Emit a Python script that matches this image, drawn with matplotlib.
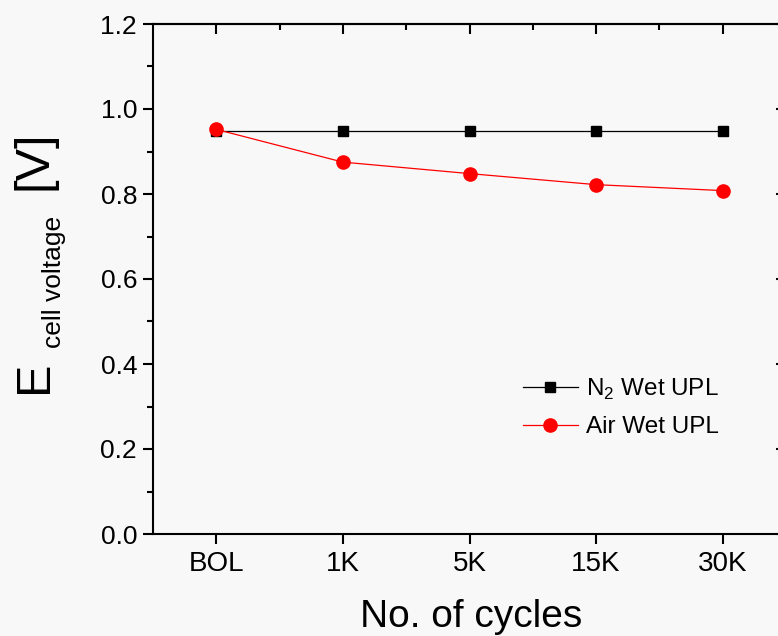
import matplotlib
matplotlib.use("Agg")
import matplotlib.pyplot as plt
from matplotlib.ticker import MultipleLocator, FixedLocator, NullLocator

plt.rcParams['font.family'] = ['Liberation Sans', 'DejaVu Sans']
plt.rcParams['mathtext.fontset'] = 'custom'
plt.rcParams['mathtext.rm'] = 'Liberation Sans'

# Data
categories = ['BOL', '1K', '5K', '15K', '30K']
n2_wet_upl = [0.948, 0.948, 0.948, 0.948, 0.948]
air_wet_upl = [0.952, 0.875, 0.848, 0.822, 0.808]

W, H = 778, 636
fig = plt.figure(figsize=(W / 100, H / 100), dpi=100, facecolor='#f8f8f8')
ax = fig.add_axes([153 / W, (H - 534) / H, 633 / W, 510 / H])
ax.set_facecolor('#f8f8f8')

x = list(range(len(categories)))
ax.plot(x, n2_wet_upl, color='black', lw=0.9, marker='s', ms=7.5,
        mfc='black', mec='black', label=r'N$_\mathregular{2}$ Wet UPL')
ax.plot(x, air_wet_upl, color='#ff0000', lw=0.9, marker='o', ms=9.5,
        mfc='#ff0000', mec='#ff0000', label='Air Wet UPL')

ax.set_xlim(-0.5, 4.5)
ax.set_ylim(0.0, 1.2)
ax.set_xticks(x)
ax.set_xticklabels(categories)
ax.yaxis.set_major_locator(MultipleLocator(0.2))
ax.yaxis.set_minor_locator(MultipleLocator(0.1))
ax.xaxis.set_minor_locator(NullLocator())
ax.yaxis.set_major_formatter(matplotlib.ticker.FormatStrFormatter('%.1f'))

for s in ax.spines.values():
    s.set_linewidth(1.5)

ax.tick_params(axis='x', which='major', direction='out', length=7.5, width=1.5,
               labelsize=20, pad=5, top=False)
ax.tick_params(axis='y', which='major', direction='out', length=7.5, width=1.5,
               labelsize=19, pad=4, right=False)
ax.tick_params(axis='y', which='minor', direction='out', length=4, width=1.5,
               right=False)

# Inward ticks on the top and right edges
top = ax.secondary_xaxis('top')
top.xaxis.set_major_locator(FixedLocator(x))
top.xaxis.set_minor_locator(FixedLocator([i + 0.5 for i in x[:-1]]))
top.tick_params(which='major', direction='in', length=7.5, width=1.5, labeltop=False)
top.tick_params(which='minor', direction='in', length=4, width=1.5)
top.spines['top'].set_linewidth(1.5)

right = ax.secondary_yaxis('right')
right.yaxis.set_major_locator(MultipleLocator(0.2))
right.yaxis.set_minor_locator(MultipleLocator(0.1))
right.tick_params(which='major', direction='in', length=7.5, width=1.5, labelright=False)
right.tick_params(which='minor', direction='in', length=4, width=1.5)

# Axis titles
fig.text(471 / W, 1 - 627 / H, 'No. of cycles', ha='center', va='baseline', fontsize=28)
fig.text(47 / W, 1 - 393 / H, 'E', rotation=90, rotation_mode='anchor',
         ha='left', va='baseline', fontsize=35)
fig.text(61 / W, 1 - 348 / H, 'cell voltage', rotation=90, rotation_mode='anchor',
         ha='left', va='baseline', fontsize=19)
fig.text(47 / W, 1 - 190 / H, '[V]', rotation=90, rotation_mode='anchor',
         ha='left', va='baseline', fontsize=35)

leg = ax.legend(loc='upper left', bbox_to_anchor=((523 - 153) / 633, (534 - 377) / 510),
                frameon=False, fontsize=17.5, handlelength=2.25, handletextpad=0.35,
                labelspacing=0.58, borderpad=0, borderaxespad=0)

fig.savefig('out.png', dpi=100, facecolor=fig.get_facecolor())
